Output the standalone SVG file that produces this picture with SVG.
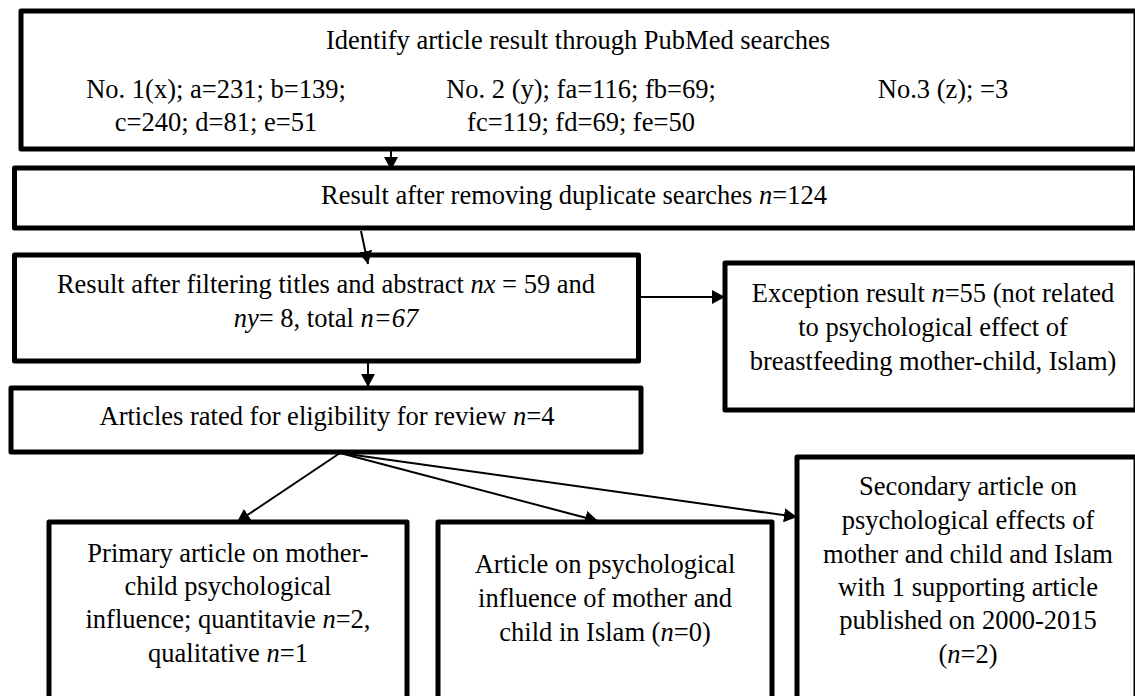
<svg xmlns="http://www.w3.org/2000/svg" width="1135" height="696" viewBox="0 0 1135 696">
<style>
.box{fill:#fff;stroke:#000;stroke-width:5;stroke-linejoin:round}
.t{font-family:"Liberation Serif","Times New Roman",serif;font-size:26.5px;fill:#000;text-anchor:middle}
.s{font-family:"Liberation Serif","Times New Roman",serif;font-size:26.5px;fill:#000}
.i{font-style:italic}
.c{fill:none;stroke:#000;stroke-width:2}
</style>
<defs>
<marker id="ah" markerUnits="userSpaceOnUse" markerWidth="14" markerHeight="14" refX="13" refY="7" orient="auto">
<path d="M0,0 L13,7 L0,14 Z" fill="#000"/>
</marker>
</defs>
<rect width="1135" height="696" fill="#fff"/>
<g id="n1">
<rect class="box" x="21" y="11" width="1115" height="138"/>
<text class="t" x="578" y="49">Identify article result through PubMed searches</text>
<text class="t" x="216" y="98">No. 1(x); a=231; b=139;</text>
<text class="t" x="216" y="131">c=240; d=81; e=51</text>
<text class="t" x="581" y="98">No. 2 (y); fa=116; fb=69;</text>
<text class="t" x="581" y="131">fc=119; fd=69; fe=50</text>
<text class="t" x="943" y="98">No.3 (z); =3</text>
</g>
<g id="n2">
<rect class="box" x="14.5" y="168" width="1121" height="60"/>
<text class="t" x="574" y="204">Result after removing duplicate searches <tspan class="i">n</tspan>=124</text>
</g>
<g id="n3">
<rect class="box" x="14.5" y="255" width="624" height="106"/>
<text class="t" x="326" y="293">Result after filtering titles and abstract <tspan class="i">nx</tspan> = 59 and</text>
<text class="t" x="326" y="327"><tspan class="i">ny</tspan>= 8, total <tspan class="i">n=67</tspan></text>
</g>
<g id="n4">
<rect class="box" x="725" y="263" width="411" height="147"/>
<text class="t" x="933" y="302">Exception result <tspan class="i">n</tspan>=55 (not related</text>
<text class="t" x="933" y="336">to psychological effect of</text>
<text class="t" x="933" y="370">breastfeeding mother-child, Islam)</text>
</g>
<g id="n5">
<rect class="box" x="11" y="388" width="630" height="64"/>
<text class="t" x="327" y="425">Articles rated for eligibility for review <tspan class="i">n</tspan>=4</text>
</g>
<g id="n6">
<rect class="box" x="49" y="522" width="358" height="200"/>
<text class="t" x="228" y="562">Primary article on mother-</text>
<text class="t" x="228" y="595">child psychological</text>
<text class="t" x="228" y="628">influence; quantitavie <tspan class="i">n</tspan>=2,</text>
<text class="t" x="228" y="662">qualitative <tspan class="i">n</tspan>=1</text>
</g>
<g id="n7">
<rect class="box" x="438" y="522" width="334" height="200"/>
<text class="t" x="605" y="573">Article on psychological</text>
<text class="t" x="605" y="607">influence of mother and</text>
<text class="t" x="605" y="641">child in Islam (<tspan class="i">n</tspan>=0)</text>
</g>
<g id="n8">
<rect class="box" x="797" y="457" width="339" height="265"/>
<text class="t" x="968" y="495">Secondary article on</text>
<text class="t" x="968" y="529">psychological effects of</text>
<text class="t" x="968" y="563">mother and child and Islam</text>
<text class="t" x="968" y="596">with 1 supporting article</text>
<text class="t" x="968" y="629">published on 2000-2015</text>
<text class="t" x="968" y="663">(<tspan class="i">n</tspan>=2)</text>
</g>
<g id="connectors">
<line class="c" x1="391" y1="147" x2="391" y2="170" marker-end="url(#ah)"/>
<line class="c" x1="361" y1="231" x2="368" y2="264" marker-end="url(#ah)"/>
<line class="c" x1="368" y1="363" x2="368" y2="387" marker-end="url(#ah)"/>
<line class="c" x1="641" y1="297" x2="725" y2="297" marker-end="url(#ah)"/>
<line class="c" x1="340" y1="453" x2="237" y2="522" marker-end="url(#ah)"/>
<line class="c" x1="340" y1="453" x2="598" y2="521" marker-end="url(#ah)"/>
<line class="c" x1="340" y1="453" x2="797" y2="517" marker-end="url(#ah)"/>
</g>
</svg>
